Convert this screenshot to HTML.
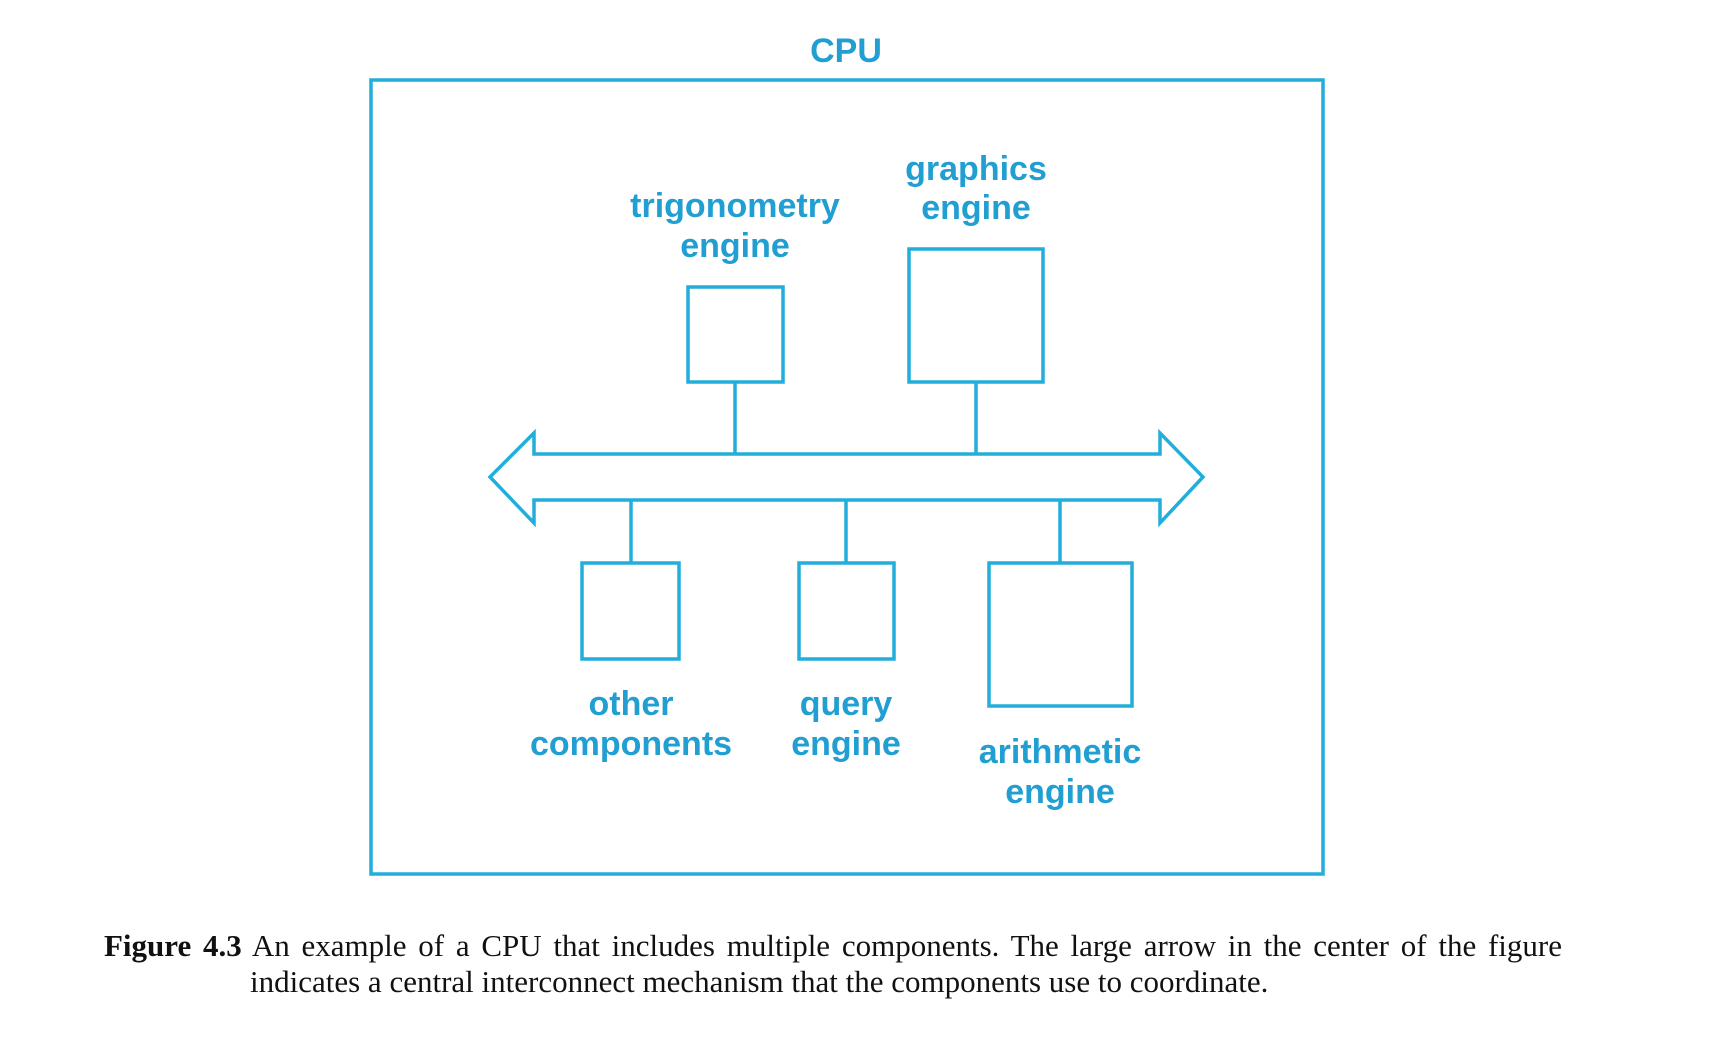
<!DOCTYPE html>
<html><head><meta charset="utf-8"><style>
html,body{margin:0;padding:0;background:#fff;}
body{width:1715px;height:1041px;position:relative;overflow:hidden;}
svg{position:absolute;left:0;top:0;}
.cap{position:absolute;font-family:"Liberation Serif",serif;font-size:31px;color:#111;white-space:nowrap;}
</style></head><body>
<svg width="1715" height="1041" viewBox="0 0 1715 1041">
<g fill="none" stroke="#22aedb" stroke-width="3.5">
<rect x="371" y="80" width="952" height="794"/>
<rect x="688" y="287" width="95" height="95"/>
<rect x="909" y="249" width="134" height="133"/>
<rect x="582" y="563" width="97" height="96"/>
<rect x="799" y="563" width="95" height="96"/>
<rect x="989" y="563" width="143" height="143"/>
<polygon points="490,477 534,433 534,454 1160,454 1160,433 1203,477 1160,523 1160,500 534,500 534,523"/>
<line x1="735" y1="382" x2="735" y2="454"/>
<line x1="976" y1="382" x2="976" y2="454"/>
<line x1="631" y1="500" x2="631" y2="563"/>
<line x1="846" y1="500" x2="846" y2="563"/>
<line x1="1060" y1="500" x2="1060" y2="563"/>
</g>
<g fill="#229fd2" font-family="Liberation Sans, sans-serif" font-weight="bold" font-size="34" text-anchor="middle">
<text x="846" y="62">CPU</text>
<text x="735" y="217">trigonometry</text>
<text x="735" y="257">engine</text>
<text x="976" y="180">graphics</text>
<text x="976" y="219">engine</text>
<text x="631" y="715">other</text>
<text x="631" y="755">components</text>
<text x="846" y="715">query</text>
<text x="846" y="755">engine</text>
<text x="1060" y="763">arithmetic</text>
<text x="1060" y="803">engine</text>
</g>
</svg>
<div class="cap" style="left:104px;top:928px;width:1458px;text-align:justify;text-align-last:justify;"><b>Figure 4.3</b> An example of a CPU that includes multiple components. The large arrow in the center of the figure</div>
<div class="cap" style="left:250px;top:964px;">indicates a central interconnect mechanism that the components use to coordinate.</div>
</body></html>
